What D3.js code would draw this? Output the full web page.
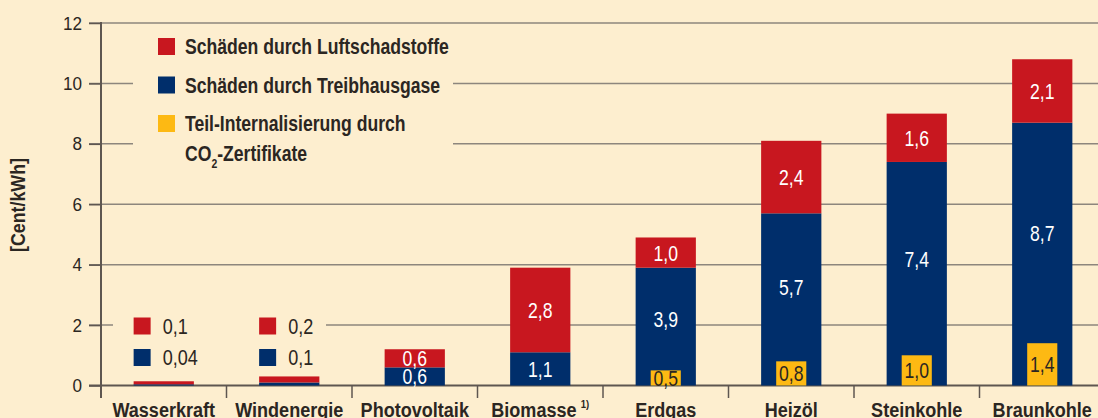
<!DOCTYPE html>
<html>
<head>
<meta charset="utf-8">
<script src="https://cdn.jsdelivr.net/npm/d3@7"></script>
<style>
  body { margin: 0; background: #fdeecf; }
  svg { display: block; font-family: "Liberation Sans", Arial, sans-serif; }
</style>
</head>
<body>
<svg id="chart" width="1098" height="418"></svg>
<script>
const categories = ['Wasserkraft', 'Windenergie', 'Photovoltaik', 'Biomasse', 'Erdgas', 'Heizöl', 'Steinkohle', 'Braunkohle'];
const treibhausgase = [0.04, 0.1, 0.6, 1.1, 3.9, 5.7, 7.4, 8.7];
const luftschadstoffe = [0.1, 0.2, 0.6, 2.8, 1.0, 2.4, 1.6, 2.1];
const zertifikate = [0, 0, 0, 0, 0.5, 0.8, 1.0, 1.4];
const yTicks = [0, 2, 4, 6, 8, 10, 12];
const legendItems = ['Schäden durch Luftschadstoffe', 'Schäden durch Treibhausgase', 'Teil-Internalisierung durch'];

const colors = { luft: '#c8171f', treib: '#002e6b', zert: '#fdb913' };
const bg = '#fdeecf';
const textDark = '#2b2622';
const axisCol = '#5e5650';

const svg = d3.select('#chart');
const width = +svg.attr('width');
const height = +svg.attr('height');

const locale = d3.formatLocale({ decimal: ',', thousands: '.', grouping: [3], currency: ['', ' €'] });
const fmt = v => locale.format(v < 0.1 ? '.2f' : '.1f')(v);

// condensed text: the original uses a narrow face, so squeeze Liberation Sans horizontally
const ntext = (parent, x, y, str, o) => {
  const g = parent.append('g').attr('transform', `translate(${x},${y}) scale(${o.sx},1)`);
  return g.append('text')
    .attr('text-anchor', o.anchor || 'start')
    .attr('dy', o.dy || 0)
    .attr('font-size', o.size)
    .attr('font-weight', o.weight || 'normal')
    .attr('fill', o.fill || textDark)
    .text(str);
};

svg.append('rect').attr('width', width).attr('height', height).attr('fill', bg);

const x = d3.scaleBand()
  .domain(categories)
  .range([101, 1105])
  .paddingInner(0.52)
  .paddingOuter(0.26);

const y = d3.scaleLinear()
  .domain([0, 12])
  .range([385.5, 23]);

// gridlines
svg.append('g')
  .selectAll('line')
  .data(yTicks)
  .join('line')
  .attr('x1', 89)
  .attr('x2', width)
  .attr('y1', d => y(d))
  .attr('y2', d => y(d))
  .attr('stroke', d => d === 0 ? axisCol : '#8d867d')
  .attr('stroke-width', d => d === 0 ? 2 : 1.5);

// boxes behind the legends hide the grid
svg.append('rect').attr('x', 133).attr('y', 30).attr('width', 320).attr('height', 140).attr('fill', bg);
svg.append('rect').attr('x', 113).attr('y', 310).attr('width', 213).attr('height', 62).attr('fill', bg);

// y axis
const yAxis = svg.append('g')
  .attr('transform', 'translate(101,0)')
  .call(d3.axisLeft(y).tickValues(yTicks).tickSize(12).tickPadding(9));
yAxis.select('.domain').remove();
yAxis.selectAll('.tick line').attr('stroke', axisCol).attr('stroke-width', 1.5);
yAxis.selectAll('.tick text')
  .attr('transform', 'scale(0.9,1)')
  .attr('font-family', null)
  .attr('font-size', 19)
  .attr('fill', textDark);

svg.append('line')
  .attr('x1', 101).attr('x2', 101)
  .attr('y1', y(12) - 1).attr('y2', 398)
  .attr('stroke', axisCol).attr('stroke-width', 2);

// category separators
const step = x.step();
svg.append('g')
  .selectAll('line')
  .data(categories.slice(0, -1))
  .join('line')
  .attr('x1', d => x(d) - step * 0.26 + step)
  .attr('x2', d => x(d) - step * 0.26 + step)
  .attr('y1', y(0))
  .attr('y2', 398)
  .attr('stroke', axisCol)
  .attr('stroke-width', 1.5);

// bars
const bw = x.bandwidth();
const bars = svg.append('g');
categories.forEach((c, i) => {
  const t = treibhausgase[i], l = luftschadstoffe[i], z = zertifikate[i];
  bars.append('rect')
    .attr('x', x(c)).attr('width', bw)
    .attr('y', y(t)).attr('height', y(0) - y(t))
    .attr('fill', colors.treib);
  bars.append('rect')
    .attr('x', x(c)).attr('width', bw)
    .attr('y', y(t + l)).attr('height', y(t) - y(t + l))
    .attr('fill', colors.luft);
  if (z > 0) {
    bars.append('rect')
      .attr('x', x(c) + bw / 4).attr('width', bw / 2)
      .attr('y', y(z)).attr('height', y(0) - y(z))
      .attr('fill', colors.zert);
  }
  if (i >= 2) {
    const cx = x(c) + bw / 2;
    const labels = [
      { v: t, yc: (y(t) + y(z)) / 2, fill: '#fff' },
      { v: l, yc: (y(t + l) + y(t)) / 2, fill: '#fff' }
    ];
    if (z > 0) labels.push({ v: z, yc: (y(z) + y(0)) / 2, fill: textDark });
    labels.forEach(lb => {
      ntext(bars, cx, lb.yc, fmt(lb.v), { sx: 0.8, size: 22, anchor: 'middle', dy: '0.36em', fill: lb.fill });
    });
  }
});

// small legends for the tiny bars
categories.slice(0, 2).forEach((c, i) => {
  const rows = [
    { v: luftschadstoffe[i], col: colors.luft, yc: 326 },
    { v: treibhausgase[i], col: colors.treib, yc: 357.5 }
  ];
  rows.forEach(r => {
    svg.append('rect')
      .attr('x', x(c)).attr('y', r.yc - 8.5)
      .attr('width', 17).attr('height', 17)
      .attr('fill', r.col);
    ntext(svg, x(c) + 29, r.yc, fmt(r.v), { sx: 0.82, size: 22, dy: '0.36em' });
  });
});

// category labels
categories.forEach(c => {
  const t = ntext(svg, x(c) + bw / 2, 416.5, c, { sx: 0.86, size: 21, weight: 'bold', anchor: 'middle' });
  if (c === 'Biomasse') {
    t.append('tspan').attr('font-size', 11).attr('dx', 5).attr('dy', -9).text('1)');
  }
});

// y title
ntext(svg.append('g').attr('transform', 'translate(25,205) rotate(-90)'), 0, 0, '[Cent/kWh]',
  { sx: 0.89, size: 20, weight: 'bold', anchor: 'middle' });

// main legend
const legendColors = [colors.luft, colors.treib, colors.zert];
legendItems.forEach((name, i) => {
  const yc = 46.5 + i * 38.5;
  svg.append('rect')
    .attr('x', 158).attr('y', yc - 8.5)
    .attr('width', 17).attr('height', 17)
    .attr('fill', legendColors[i]);
  ntext(svg, 185, yc, name, { sx: 0.8, size: 22, weight: 'bold', dy: '0.36em' });
});
const co2 = ntext(svg, 185, 153, '', { sx: 0.8, size: 22, weight: 'bold', dy: '0.36em' });
co2.append('tspan').text('CO');
co2.append('tspan').attr('font-size', 13).attr('dy', 7).text('2');
co2.append('tspan').attr('dy', -7).text('-Zertifikate');
</script>
</body>
</html>
